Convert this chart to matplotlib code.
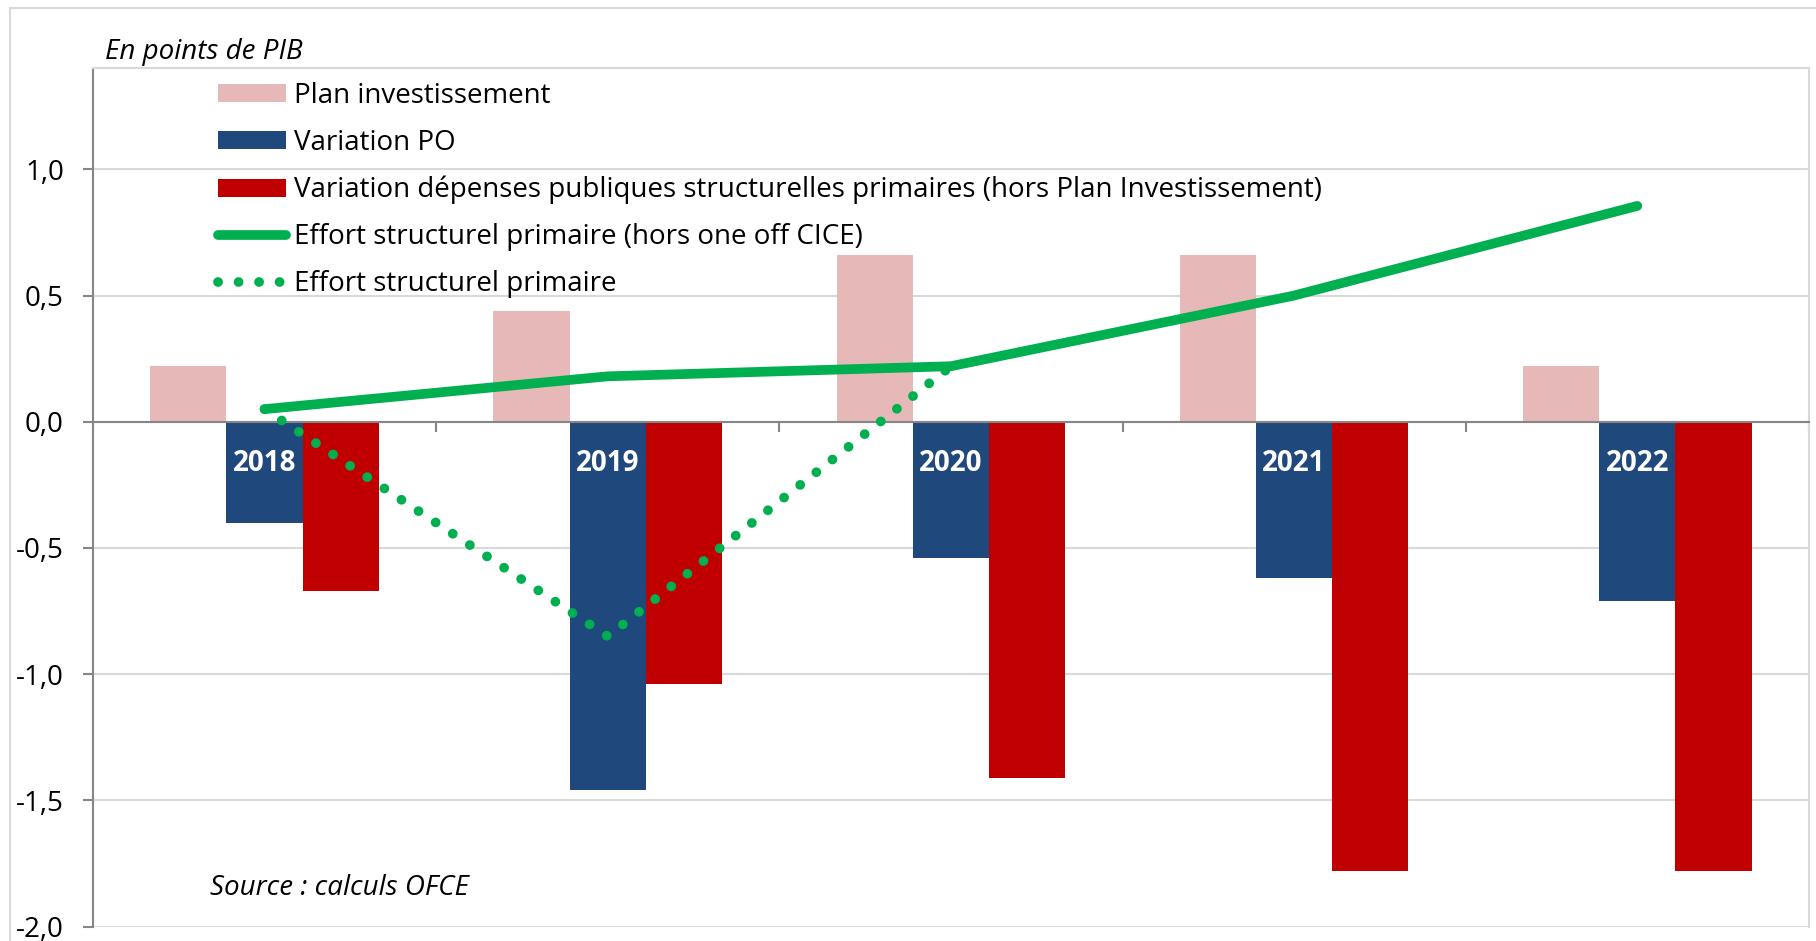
import matplotlib
matplotlib.use('Agg')
import matplotlib.pyplot as plt
import numpy as np
from matplotlib.patches import Patch, Rectangle
from matplotlib.lines import Line2D

plt.rcParams['font.family'] = ['Open Sans', 'DejaVu Sans']

# Values (points de PIB)
years = ['2018', '2019', '2020', '2021', '2022']
plan_invest = [0.22, 0.44, 0.66, 0.66, 0.22]
variation_po = [-0.40, -1.46, -0.54, -0.62, -0.71]
variation_dep = [-0.67, -1.04, -1.41, -1.78, -1.78]
effort_hors_cice = [0.05, 0.18, 0.22, 0.50, 0.855]
effort = [0.05, -0.85, 0.22, np.nan, np.nan]

c_pink = '#E6B9B8'
c_blue = '#1F497D'
c_red = '#C00000'
c_green = '#00B050'
c_axis = '#868686'
c_grid = '#D9D9D9'

fs = 20
x = np.arange(len(years))
w = 0.222

fig = plt.figure(figsize=(18.16, 9.41), dpi=100)
ax = fig.add_axes([0.0512, 0.0152, 0.9449, 0.9122])

ax.bar(x - w, plan_invest, width=w, color=c_pink, zorder=2)
ax.bar(x, variation_po, width=w, color=c_blue, zorder=2)
ax.bar(x + w, variation_dep, width=w, color=c_red, zorder=2)

ax.plot(x, effort, color=c_green, lw=7, linestyle=(0, (0.01, 2.1)),
        dash_capstyle='round', zorder=4)
ax.plot(x, effort_hors_cice, color=c_green, lw=7, solid_capstyle='round',
        solid_joinstyle='round', zorder=5)

# year labels sit on the blue bars
for xi, yr in zip(x, years):
    ax.text(xi, -0.165, yr, color='white', fontsize=fs, fontweight='bold',
            ha='center', va='center', zorder=6)

ax.set_xlim(-0.5, len(years) - 0.5)
ax.set_ylim(-2.0, 1.40)

yticks = np.arange(-2.0, 1.01, 0.5)
ax.set_yticks(yticks)
ax.set_yticklabels([f'{v:.1f}'.replace('.', ',') for v in yticks])
ax.set_xticks(np.arange(-0.5, len(years), 1.0))
ax.tick_params(axis='x', length=7, width=1.5, color=c_axis, labelbottom=False)
ax.tick_params(axis='y', length=7, width=1.5, color=c_axis, pad=14, labelsize=fs)

ax.yaxis.grid(True, color=c_grid, lw=1.5)
ax.set_axisbelow(True)

ax.spines['bottom'].set_position(('data', 0))
ax.spines['bottom'].set_color(c_axis)
ax.spines['bottom'].set_linewidth(1.5)
ax.spines['bottom'].set_zorder(3)
ax.spines['left'].set_color(c_axis)
ax.spines['left'].set_linewidth(1.5)
for s in ['top', 'right']:
    ax.spines[s].set_color(c_grid)
    ax.spines[s].set_linewidth(1.5)

handles = [
    Patch(facecolor=c_pink, label='Plan investissement'),
    Patch(facecolor=c_blue, label='Variation PO'),
    Patch(facecolor=c_red, label='Variation dépenses publiques structurelles primaires (hors Plan Investissement)'),
    Line2D([], [], color=c_green, lw=7, solid_capstyle='round',
           label='Effort structurel primaire (hors one off CICE)'),
    Line2D([], [], color=c_green, lw=7, linestyle=(0, (0.01, 2.1)),
           dash_capstyle='round', label='Effort structurel primaire'),
]
ax.legend(handles=handles, loc='upper left', bbox_to_anchor=(0.0728, 0.984),
          frameon=False, fontsize=fs, handlelength=2.45, handleheight=0.62,
          handletextpad=0.29, labelspacing=0.68, borderpad=0, borderaxespad=0)

fig.text(105 / 1816, 1 - 52 / 941, 'En points de PIB', fontsize=fs, style='italic',
         ha='left', va='center')
fig.text(210 / 1816, 1 - 888 / 941, 'Source : calculs OFCE', fontsize=fs, style='italic',
         ha='left', va='center')

# outer chart frame
fig.add_artist(Rectangle((10 / 1816, -0.05), 1.1, 1 - 7.5 / 941 + 0.05,
                         transform=fig.transFigure, fill=False,
                         edgecolor=c_grid, lw=1.5))

plt.savefig('out.png', dpi=100)
